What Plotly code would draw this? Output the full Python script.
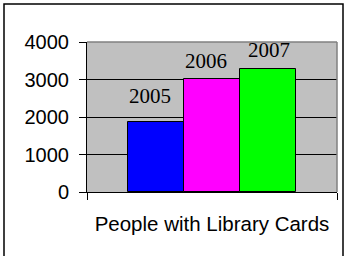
import plotly.graph_objects as go

years = ["2005", "2006", "2007"]
values = [1870, 3020, 3280]
bar_colors = ["#0000FF", "#FF00FF", "#00FF00"]
x_title = "People with Library Cards"
y_ticks = [0, 1000, 2000, 3000, 4000]

xpos = list(range(len(years)))

fig = go.Figure()
fig.add_trace(go.Bar(
    x=xpos, y=values, width=1,
    marker=dict(color=bar_colors, line=dict(color="black", width=1)),
    showlegend=False, hoverinfo="skip",
))

label_yshift = [12, 4, 5]
label_xshift = [-6, -6, 1]
for xi, v, t, ys, xs in zip(xpos, values, years, label_yshift, label_xshift):
    fig.add_annotation(x=xi, y=v, text=t, showarrow=False, yanchor="bottom",
                       yshift=ys, xshift=xs,
                       font=dict(family="Liberation Serif", size=21, color="black"))

xr = [-1.24, 3.24]
fig.update_layout(
    width=347, height=256,
    margin=dict(l=87, r=10, t=42, b=64),
    paper_bgcolor="white", plot_bgcolor="#C0C0C0",
    bargap=0,
    xaxis=dict(range=xr, tickvals=xr, ticks="outside", ticklen=7, tickcolor="black",
               showticklabels=False, showgrid=False, zeroline=False,
               showline=True, linecolor="black", linewidth=1,
               title=dict(text=x_title, standoff=17,
                          font=dict(family="Liberation Sans", size=20.5, color="black"))),
    yaxis=dict(range=[0, 4000], tickvals=y_ticks, ticks="outside", ticklen=7, tickcolor="black",
               showgrid=True, gridcolor="black", gridwidth=1, zeroline=False,
               showline=True, linecolor="black", linewidth=1,
               tickfont=dict(family="Liberation Sans", size=20, color="black"),
               ticklabelstandoff=6),
    shapes=[
        dict(type="line", xref="paper", yref="paper", x0=0, x1=1, y0=1, y1=1,
             line=dict(color="#808080", width=1.5)),
        dict(type="line", xref="paper", yref="paper", x0=1, x1=1, y0=0, y1=1,
             line=dict(color="#808080", width=1.5)),
        dict(type="rect", xref="paper", yref="paper", x0=-0.332, x1=1.024, y0=-0.6, y1=1.2533,
             line=dict(color="black", width=1.5)),
    ],
)

fig.write_html("out.html", config={"displayModeBar": False},
               post_script="document.body.style.margin='0';document.body.style.overflow='hidden';")
